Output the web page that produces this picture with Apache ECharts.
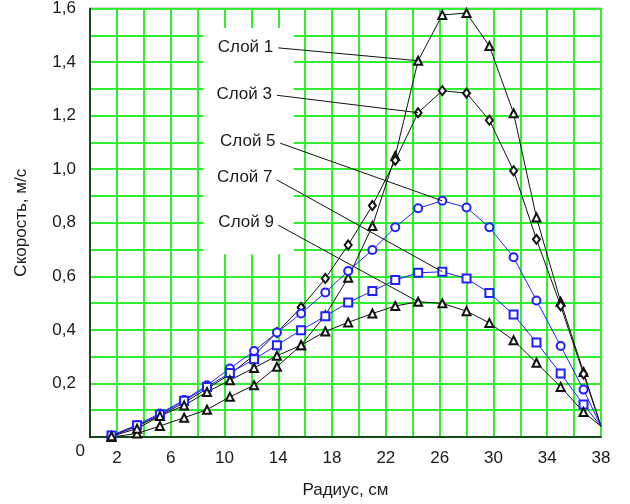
<!doctype html>
<html>
<head>
<meta charset="UTF-8">
<title>Скорость по слоям</title>
<script src="https://cdn.jsdelivr.net/npm/echarts@6/dist/echarts.min.js"></script>
<style>
  html, body { margin: 0; padding: 0; background: #fff; }
  #chart { width: 630px; height: 504px; }
</style>
</head>
<body>
<div id="chart"></div>
<script>
// радиус, см
var radius = [1.6, 3.5, 5.2, 7.0, 8.7, 10.4, 12.2, 13.9, 15.7, 17.5, 19.2, 21.0, 22.7, 24.4, 26.2, 28.0, 29.7, 31.5, 33.2, 35.0, 36.7, 38];
// скорость, м/с
var sloy1 = [0.0, 0.013, 0.041, 0.072, 0.102, 0.150, 0.193, 0.262, 0.343, 0.455, 0.595, 0.788, 1.049, 1.405, 1.576, 1.583, 1.460, 1.209, 0.820, 0.505, 0.243, 0.04];
var sloy3 = [0.003, 0.040, 0.080, 0.128, 0.180, 0.234, 0.305, 0.390, 0.484, 0.592, 0.717, 0.864, 1.033, 1.211, 1.293, 1.284, 1.183, 0.994, 0.738, 0.490, 0.235, 0.04];
var sloy5 = [0.005, 0.045, 0.088, 0.138, 0.193, 0.256, 0.321, 0.390, 0.461, 0.540, 0.620, 0.698, 0.783, 0.854, 0.882, 0.857, 0.783, 0.671, 0.510, 0.340, 0.177, 0.04];
var sloy7 = [0.006, 0.044, 0.084, 0.135, 0.187, 0.239, 0.290, 0.343, 0.399, 0.451, 0.502, 0.545, 0.586, 0.613, 0.617, 0.592, 0.538, 0.457, 0.353, 0.237, 0.121, 0.04];
var sloy9 = [0.003, 0.031, 0.078, 0.118, 0.168, 0.212, 0.258, 0.303, 0.343, 0.394, 0.428, 0.461, 0.489, 0.505, 0.499, 0.470, 0.426, 0.361, 0.277, 0.187, 0.093, 0.04];

var names = ['Слой 1', 'Слой 3', 'Слой 5', 'Слой 7', 'Слой 9'];
// начало выносной линии (у подписи) и номер точки, куда она идёт
var calloutX = [14.0, 13.9, 14.15, 13.9, 14.0];
var calloutY = [1.453, 1.276, 1.097, 0.960, 0.791];
var calloutPoint = [13, 13, 14, 14, 13];
// белое поле под подписями
var boxX = [8.45, 15.15];
var boxY = [0.682, 1.527];

var FONT = 'Liberation Sans';

function pairs(ys) {
  var out = [];
  for (var i = 0; i < radius.length; i++) {
    if (i == radius.length - 1) out.push({ value: [radius[i], ys[i]], symbol: 'none' });
    else out.push([radius[i], ys[i]]);
  }
  return out;
}

function callout(k, ys) {
  var p = calloutPoint[k];
  return {
    symbol: ['none', 'none'],
    silent: true,
    animation: false,
    lineStyle: { color: '#111', width: 1, type: 'solid' },
    label: { show: true, position: 'start', formatter: names[k], fontFamily: FONT, fontSize: 17, color: '#1a1a1a', distance: 5 },
    data: [[{ coord: [calloutX[k], calloutY[k]] }, { coord: [radius[p], ys[p]] }]]
  };
}

var chart = echarts.init(document.getElementById('chart'));

var series = [
  { ys: sloy1, color: '#111', symbol: 'emptyTriangle', size: 8 },
  { ys: sloy3, color: '#111', symbol: 'emptyDiamond', size: [7, 9] },
  { ys: sloy5, color: '#2020ff', symbol: 'emptyCircle', size: 8 },
  { ys: sloy7, color: '#2020ff', symbol: 'emptyRect', size: 8 },
  { ys: sloy9, color: '#111', symbol: 'emptyTriangle', size: 8 }
].map(function (s, k) {
  var o = {
    name: names[k],
    type: 'line',
    data: pairs(s.ys),
    symbol: s.symbol,
    symbolSize: s.size,
    showAllSymbol: true,
    lineStyle: { color: s.color, width: 1 },
    itemStyle: { color: s.color, borderColor: s.color, borderWidth: 1 },
    markLine: callout(k, s.ys),
    animation: false
  };
  if (k == 0) {
    o.markArea = {
      silent: true,
      itemStyle: { color: '#fff' },
      data: [[{ coord: [boxX[0], boxY[1]] }, { coord: [boxX[1], boxY[0]] }]]
    };
  }
  return o;
});

var option = {
  animation: false,
  grid: { left: 90, right: 29, top: 8, bottom: 67, show: true, borderColor: '#666', borderWidth: 1.5, backgroundColor: 'transparent' },
  xAxis: {
    type: 'value', min: 0, max: 38, interval: 2,
    name: 'Радиус, см', nameLocation: 'middle', nameGap: 45,
    nameTextStyle: { fontFamily: FONT, fontSize: 17, color: '#1a1a1a' },
    axisLine: { show: true, lineStyle: { color: '#111', width: 1.5 } },
    axisTick: { show: false },
    axisLabel: {
      fontFamily: FONT, fontSize: 17, color: '#1a1a1a', margin: 13,
      showMinLabel: true, showMaxLabel: true,
      formatter: function (v) { return (Math.round(v) % 4 == 2) ? String(Math.round(v)) : ''; }
    },
    splitLine: { show: true, lineStyle: { color: '#2ef02e', width: 2 } }
  },
  yAxis: {
    type: 'value', min: 0, max: 1.6, interval: 0.1,
    name: 'Скорость, м/с', nameLocation: 'middle', nameGap: 60,
    nameTextStyle: { fontFamily: FONT, fontSize: 17, color: '#1a1a1a' },
    axisLine: { show: true, lineStyle: { color: '#111', width: 1.5 } },
    axisTick: { show: false },
    axisLabel: {
      fontFamily: FONT, fontSize: 17, color: '#1a1a1a', margin: 14,
      formatter: function (v) {
        var t = Math.round(v * 10);
        if (t == 0 || t % 2 != 0) return '';
        return v.toFixed(1).replace('.', ',');
      }
    },
    splitLine: { show: true, lineStyle: { color: '#2ef02e', width: 2 } }
  },
  series: series
};

chart.setOption(option);

// подпись начала координат
var o = chart.convertToPixel({ gridIndex: 0 }, [0, 0]);
chart.setOption({
  graphic: [{
    type: 'text', x: o[0] - 5, y: o[1] + 14,
    style: { text: '0', font: '17px ' + FONT, fill: '#1a1a1a', align: 'right', verticalAlign: 'middle' }
  }]
});
</script>
</body>
</html>
